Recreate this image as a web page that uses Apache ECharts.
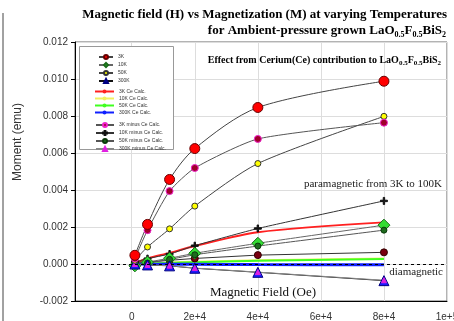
<!DOCTYPE html>
<html>
<head>
<meta charset="utf-8">
<script src="https://cdn.jsdelivr.net/npm/echarts@6/dist/echarts.min.js"></script>
<style>
  html, body { margin: 0; padding: 0; background: #fff; }
  #mh { width: 454px; height: 321px; }
</style>
</head>
<body>
<div id="mh"></div>
<script>
// field values (Oe) where moments were measured
var fieldOe = [1000, 5000, 12000, 20000, 40000, 80000];
var xTicks = [0, 20000, 40000, 60000, 80000, 100000];

// measured moment (emu)
var m3K   = [0.00047, 0.00214, 0.00457, 0.00624, 0.00846, 0.00988];
var m10K  = [-0.0001, 0.0001, 0.00031, 0.00058, 0.00112, 0.0021];
var m50K  = [0.0002, 0.00092, 0.0019, 0.00313, 0.00543, 0.00798];
var m300K = [0, -0.00005, -0.0001, -0.00023, -0.00045, -0.0009];

// Ce contribution (calc.)
var ce3K   = [0.00005, 0.0003, 0.0006, 0.00097, 0.00172, 0.00225];
var ce10K  = [0, 0.00003, 0.00008, 0.00012, 0.0002, 0.0003];
var ce50K  = [0, 0.00002, 0.00006, 0.0001, 0.00017, 0.00027];
var ce300K = [0, -0.00001, -0.00002, -0.00002, -0.00003, -0.00004];

// measured minus Ce calc.
var d3K   = [0.0003, 0.00183, 0.00394, 0.00519, 0.00676, 0.00764];
var d10K  = [0.0001, 0.00029, 0.00054, 0.00099, 0.00192, 0.00341];
var d50K  = [-0.0001, 0.00005, 0.00025, 0.0005, 0.00097, 0.00183];
var d300K = [0, -0.00005, -0.00009, -0.00022, -0.00044, -0.00088];
var dLow  = [0.0001, 0.0001, 0.0002, 0.0003, 0.00048, 0.00063];

var zeroRef = 0.00007;

function pairs(ys) {
    return fieldOe.map(function (x, i) { return [x, ys[i]]; });
}

var plus = 'path://M4,0H6V4H10V6H6V10H4V6H0V4H4Z';

function markerSeries(name, ys, symbol, size, fill, border, lineColor, smooth) {
    return {
        name: name,
        type: 'line',
        data: pairs(ys),
        symbol: symbol,
        symbolSize: size,
        smooth: smooth || 0,
        itemStyle: { color: fill, borderColor: border, borderWidth: 1, opacity: 1 },
        lineStyle: { color: lineColor, width: 1 }
    };
}

function calcSeries(name, ys, color, width) {
    return {
        name: name,
        type: 'line',
        data: pairs(ys),
        symbol: 'none',
        smooth: 0.3,
        itemStyle: { color: color },
        lineStyle: { color: color, width: width }
    };
}

var myChart = echarts.init(document.getElementById('mh'));

var serifB = 'Liberation Serif';
var richTitle = {
    t: { fontSize: 13, lineHeight: 13, fontWeight: 'bold', fontFamily: serifB, color: '#000', verticalAlign: 'top' },
    s: { fontSize: 8, lineHeight: 8, fontWeight: 'bold', fontFamily: serifB, color: '#000', verticalAlign: 'top', padding: [7, 0, 0, 0] }
};
var richEffect = {
    t: { fontSize: 10, lineHeight: 10, fontWeight: 'bold', fontFamily: serifB, fill: '#000', verticalAlign: 'top' },
    s: { fontSize: 7, lineHeight: 7, fontWeight: 'bold', fontFamily: serifB, fill: '#000', verticalAlign: 'top', padding: [5, 0, 0, 0] }
};

var legendText = { fontSize: 5, lineHeight: 5, color: '#333', fontFamily: 'Liberation Sans' };

option = {
    animation: false,
    title: [
        {
            text: 'Magnetic field (H) vs Magnetization (M) at varying Temperatures',
            right: 7, top: 8, padding: 0,
            textStyle: { fontSize: 13, fontWeight: 'bold', fontFamily: serifB, color: '#000' }
        },
        {
            text: '{t|for Ambient-pressure grown LaO}{s|0.5}{t|F}{s|0.5}{t|BiS}{s|2}',
            right: 8, top: 24, padding: 0,
            textStyle: { rich: richTitle }
        }
    ],
    grid: {
        left: 75, right: 7, top: 42, bottom: 20,
        outerBoundsMode: 'none',
        containLabel: false,
        show: true, borderColor: '#666', borderWidth: 1
    },
    legend: [
        {
            data: ['3K', '10K', '50K', '300K'],
            orient: 'vertical', left: 98, top: 54, padding: 0,
            itemWidth: 14, itemHeight: 5, itemGap: 2, textStyle: legendText
        },
        {
            data: ['3K Ce Calc.', '10K Ce Calc.', '50K Ce Calc.', '300K Ce Calc.'],
            orient: 'vertical', left: 94, top: 89, padding: 0,
            itemWidth: 19, itemHeight: 5, itemGap: 2, textStyle: legendText
        },
        {
            data: ['3K minus Ce Calc.', '10K minus Ce Calc.', '50K minus Ce Calc.', '300K minus Ce Calc.'],
            orient: 'vertical', left: 95, top: 122, padding: 0,
            itemWidth: 18, itemHeight: 5, itemGap: 2, textStyle: legendText
        }
    ],
    xAxis: {
        type: 'value',
        min: -18000,
        max: 100000,
        interval: 2000,
        axisLine: { onZero: false, lineStyle: { color: '#000' } },
        axisTick: { show: false, customValues: xTicks },
        axisLabel: {
            customValues: xTicks,
            margin: 11,
            fontSize: 10,
            fontFamily: 'Liberation Sans',
            color: '#333',
            hideOverlap: false,
            formatter: function (v) {
                if (v === 0) return '0';
                var e = Math.floor(Math.log10(v) + 1e-9);
                return Math.round(v / Math.pow(10, e)) + 'e+' + e;
            }
        },
        splitLine: { show: true, lineStyle: { color: '#ddd' } }
    },
    yAxis: {
        type: 'value',
        min: -0.002,
        max: 0.012,
        interval: 0.002,
        axisLine: { show: true, onZero: false, lineStyle: { color: '#000' } },
        axisTick: { show: true, length: 4, lineStyle: { color: '#000' } },
        axisLabel: {
            margin: 7, fontSize: 10, fontFamily: 'Liberation Sans', color: '#333',
            formatter: function (v) { return v.toFixed(3); }
        },
        splitLine: { show: true, lineStyle: { color: '#ddd' } }
    },
    graphic: [
        { type: 'line', shape: { x1: 3, y1: 13, x2: 3, y2: 321 }, style: { stroke: '#444', lineWidth: 1 } },
        {
            type: 'text', x: 18, y: 142, rotation: Math.PI / 2,
            style: { text: 'Moment (emu)', fontSize: 12, fontFamily: 'Liberation Sans', fill: '#333', align: 'center', verticalAlign: 'middle' }
        },
        {
            type: 'rect', z: 3, shape: { x: 79.5, y: 46.5, width: 94, height: 103 },
            style: { fill: '#fff', stroke: '#999', lineWidth: 1 }
        },
        {
            type: 'text', x: 441, y: 55, z: 5,
            style: {
                text: '{t|Effect from Cerium(Ce) contribution to LaO}{s|0.5}{t|F}{s|0.5}{t|BiS}{s|2}',
                align: 'right', verticalAlign: 'top',
                rich: richEffect
            }
        },
        {
            type: 'text', x: 442, y: 184, z: 5,
            style: { text: 'paramagnetic from 3K to 100K', fontSize: 11, fontFamily: serifB, fill: '#222', align: 'right', verticalAlign: 'middle' }
        },
        {
            type: 'text', x: 443, y: 272, z: 5,
            style: { text: 'diamagnetic', fontSize: 11, fontFamily: serifB, fill: '#222', align: 'right', verticalAlign: 'middle' }
        },
        {
            type: 'text', x: 263, y: 293, z: 5,
            style: { text: 'Magnetic Field (Oe)', fontSize: 13, fontFamily: serifB, fill: '#111', align: 'center', verticalAlign: 'middle' }
        }
    ],
    series: [
        calcSeries('3K Ce Calc.', ce3K, '#ff2020', 2),
        calcSeries('10K Ce Calc.', ce10K, '#f0f060', 2),
        calcSeries('50K Ce Calc.', ce50K, '#40ff20', 2),
        calcSeries('300K Ce Calc.', ce300K, '#1020ff', 3),
        {
            name: 'low',
            type: 'line',
            data: pairs(dLow),
            symbol: 'circle', symbolSize: 7,
            itemStyle: { color: '#7a0010', borderColor: '#300', borderWidth: 1 },
            lineStyle: { color: '#333', width: 1 },
            markLine: {
                silent: true, symbol: 'none', label: { show: false },
                lineStyle: { color: '#000', type: [3, 3], width: 1 },
                data: [{ yAxis: zeroRef }]
            }
        },
        markerSeries('10K minus Ce Calc.', d10K, plus, 7, '#111', '#111', '#333', 0.15),
        markerSeries('10K', m10K, 'diamond', 12, '#33dd33', '#1a6a1a', '#666', 0.15),
        markerSeries('50K minus Ce Calc.', d50K, 'circle', 6, '#1e6b1e', '#0a3a0a', '#555', 0.15),
        markerSeries('300K', m300K, 'triangle', 10, '#1a1aff', '#000080', '#111', 0),
        markerSeries('300K minus Ce Calc.', d300K, 'triangle', 5, '#e020e0', '#e020e0', '#888', 0),
        markerSeries('50K', m50K, 'circle', 6, '#ffff00', '#333', '#444', 0.25),
        markerSeries('3K minus Ce Calc.', d3K, 'circle', 7, '#a0002a', '#ee22cc', '#555', 0.2),
        markerSeries('3K', m3K, 'circle', 10, '#ff0000', '#600', '#444', 0.3)
    ]
};

myChart.setOption(option);
</script>
</body>
</html>
